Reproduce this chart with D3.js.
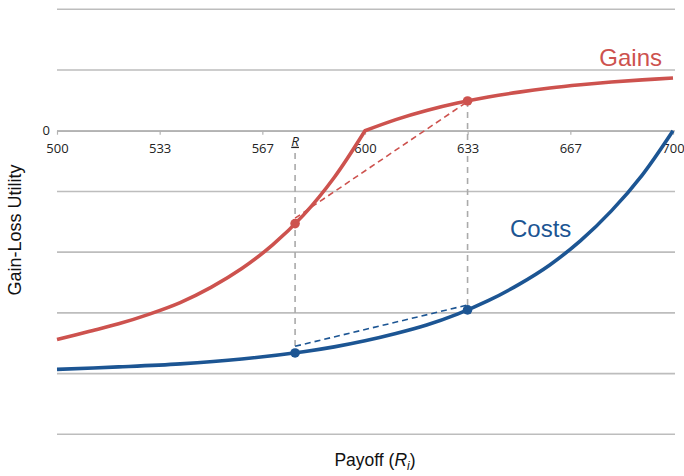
<!DOCTYPE html>
<html>
<head>
<meta charset="utf-8">
<script src="https://cdn.jsdelivr.net/npm/d3@7"></script>
<style>
  body { margin: 0; background: #fff; }
  svg { display: block; }
</style>
</head>
<body>
<svg id="chart"></svg>
<script>
// tick values and their printed labels
const xTicks = [500, 533.33, 566.67, 600, 633.33, 666.67, 700];
const xTickLabels = ["500", "533", "567", "600", "633", "667", "700"];
const yGrid = [2, 1, 0, -1, -2, -3, -4, -5];

// reference point R and the comparison payoff
const refPayoff = 577.3;
const altPayoff = 633.3;

// gains curve (kink at 600)
const gainsLeftX = [500, 510, 520, 530, 540, 550, 560, 570, 580, 590, 600];
const gainsLeftY = [-3.44, -3.31, -3.18, -3.02, -2.83, -2.58, -2.27, -1.88, -1.39, -0.77, 0];
const gainsRightX = [600, 610, 620, 630, 640, 650, 660, 670, 680, 690, 700];
const gainsRightY = [0, 0.183, 0.333, 0.455, 0.555, 0.636, 0.703, 0.757, 0.802, 0.838, 0.868];

// costs curve
const costsX = [500, 520, 540, 560, 580, 590, 600, 610, 620, 630, 640, 650, 660, 670, 680, 690, 700];
const costsY = [-3.93, -3.89, -3.84, -3.76, -3.64, -3.56, -3.46, -3.34, -3.20, -3.02, -2.80, -2.53, -2.21, -1.81, -1.32, -0.73, 0];

// marked points and dashed chords
const gainsPoints = [-1.53, 0.49];
const costsPoints = [-3.66, -2.95];
const gainsChord = [-1.44, 0.48];
const costsChord = [-3.55, -2.87];

const red = "#cd524e";
const blue = "#1c5593";
const grid = "#bdbdbd";

const W = 684, H = 476;
const svg = d3.select("#chart").attr("width", W).attr("height", H);

const x = d3.scaleLinear().domain([500, 700]).range([57, 673]);
const y = d3.scaleLinear().domain([-5, 2]).range([434.3, 9.3]);

// horizontal gridlines
svg.append("g").selectAll("line").data(yGrid).join("line")
    .attr("x1", x(500)).attr("x2", x(700) + 2)
    .attr("y1", d => y(d)).attr("y2", d => y(d))
    .attr("stroke", grid).attr("stroke-width", 1.6);

// vertical dashed guides
svg.append("line")
    .attr("x1", x(refPayoff)).attr("x2", x(refPayoff))
    .attr("y1", 153).attr("y2", y(costsPoints[0]) + 9)
    .attr("stroke", "#aaa").attr("stroke-width", 1.6).attr("stroke-dasharray", "6,5");
svg.append("line")
    .attr("x1", x(altPayoff)).attr("x2", x(altPayoff))
    .attr("y1", y(gainsPoints[1])).attr("y2", y(costsPoints[1]))
    .attr("stroke", "#aaa").attr("stroke-width", 1.6).attr("stroke-dasharray", "6,5");

// x axis on the zero line
const xAxis = svg.append("g")
    .attr("transform", `translate(0,${y(0)})`)
    .call(d3.axisBottom(x).tickValues(xTicks)
        .tickFormat((d, i) => xTickLabels[i]).tickSize(4).tickSizeOuter(0));
xAxis.select(".domain").attr("stroke", "#b3b3b3").attr("stroke-width", 1.6);
xAxis.selectAll(".tick line").attr("stroke", "#b3b3b3").attr("stroke-width", 1.2);
xAxis.selectAll(".tick text")
    .attr("y", 22).attr("dy", 0)
    .attr("font-family", "Open Sans, sans-serif").attr("font-size", 13).attr("fill", "#222")
    .each(function () {
        // white box behind the label breaks the dashed guide
        const g = d3.select(this.parentNode);
        g.insert("rect", "text").attr("x", -12).attr("y", 10).attr("width", 24).attr("height", 15).attr("fill", "#fff");
    });

// y zero label
svg.append("text")
    .attr("x", 50).attr("y", y(0) + 4)
    .attr("text-anchor", "end")
    .attr("font-family", "Open Sans, sans-serif").attr("font-size", 13).attr("fill", "#222")
    .text("0");

// R label
svg.append("text")
    .attr("x", x(refPayoff)).attr("y", y(0) + 15)
    .attr("text-anchor", "middle")
    .attr("font-family", "Open Sans, sans-serif").attr("font-size", 13.5).attr("fill", "#222")
    .attr("font-style", "italic").attr("text-decoration", "underline")
    .text("R");

// dashed chords
const chordLine = d3.line().x(d => x(d[0])).y(d => y(d[1]));
svg.append("path")
    .attr("d", chordLine([[refPayoff, gainsChord[0]], [altPayoff, gainsChord[1]]]))
    .attr("fill", "none").attr("stroke", red).attr("stroke-width", 1.6).attr("stroke-dasharray", "6,4");
svg.append("path")
    .attr("d", chordLine([[refPayoff, costsChord[0]], [altPayoff, costsChord[1]]]))
    .attr("fill", "none").attr("stroke", blue).attr("stroke-width", 1.6).attr("stroke-dasharray", "6,4");

// curves
const curve = d3.line().x(d => x(d[0])).y(d => y(d[1])).curve(d3.curveCatmullRom.alpha(0.5));
const gainsLeft = gainsLeftX.map((v, i) => [v, gainsLeftY[i]]);
const gainsRight = gainsRightX.map((v, i) => [v, gainsRightY[i]]);
const costs = costsX.map((v, i) => [v, costsY[i]]);

svg.append("path").attr("d", curve(gainsLeft) + curve(gainsRight).replace(/^M/, "L"))
    .attr("fill", "none").attr("stroke", red).attr("stroke-width", 3.6).attr("stroke-linejoin", "round");
svg.append("path").attr("d", curve(costs))
    .attr("fill", "none").attr("stroke", blue).attr("stroke-width", 3.6);

// points
const px = [refPayoff, altPayoff];
svg.append("g").selectAll("circle").data(gainsPoints).join("circle")
    .attr("cx", (d, i) => x(px[i])).attr("cy", d => y(d)).attr("r", 4.8).attr("fill", red);
svg.append("g").selectAll("circle").data(costsPoints).join("circle")
    .attr("cx", (d, i) => x(px[i])).attr("cy", d => y(d)).attr("r", 4.8).attr("fill", blue);

// series labels
svg.append("text").attr("x", 662).attr("y", 66).attr("text-anchor", "end")
    .attr("font-family", "Liberation Sans, Arial, sans-serif").attr("font-size", 24).attr("fill", red)
    .text("Gains");
svg.append("text").attr("x", 510).attr("y", 237)
    .attr("font-family", "Liberation Sans, Arial, sans-serif").attr("font-size", 24).attr("fill", blue)
    .text("Costs");

// axis titles
const xt = svg.append("text").attr("x", 375).attr("y", 466).attr("text-anchor", "middle")
    .attr("font-family", "Liberation Sans, Arial, sans-serif").attr("font-size", 17.5).attr("fill", "#111");
xt.append("tspan").text("Payoff (");
xt.append("tspan").attr("font-style", "italic").text("R");
xt.append("tspan").attr("font-style", "italic").attr("font-size", 12).attr("dy", 4).text("i");
xt.append("tspan").attr("dy", -4).text(")");

svg.append("text")
    .attr("transform", "translate(21,230) rotate(-90)")
    .attr("text-anchor", "middle")
    .attr("font-family", "Liberation Sans, Arial, sans-serif").attr("font-size", 18).attr("fill", "#111")
    .text("Gain-Loss Utility");
</script>
</body>
</html>
